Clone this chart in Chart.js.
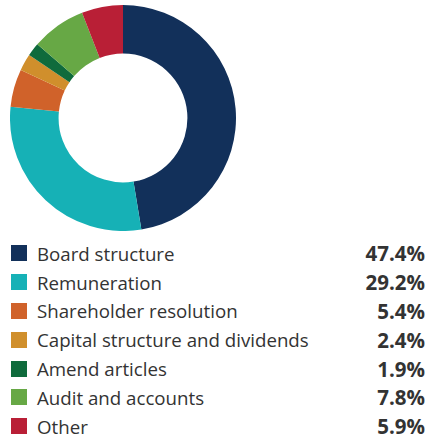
<!DOCTYPE html>
<html>
<head>
<meta charset="utf-8">
<script src="https://cdn.jsdelivr.net/npm/chart.js@4"></script>
<style>
  body { margin: 0; background: #fff; width: 425px; height: 439px; overflow: hidden; font-family: "Open Sans", "Noto Sans", sans-serif; }
  #wrap { position: absolute; left: 10px; top: 5px; width: 226px; height: 226px; }
  #legend { position: absolute; left: 11px; top: 239px; width: 414px; }
  .row { display: flex; align-items: center; height: 28.8px; font-size: 18.7px; color: #333; }
  .sw { width: 16px; height: 16px; margin-right: 10px; flex: none; }
  .lab { flex: 1; }
  .val { font-weight: bold; text-align: right; font-size: 20.5px; }
</style>
</head>
<body>
<div id="wrap"><canvas id="chart"></canvas></div>
<div id="legend"></div>
<script>
// Themen und Anteile (%)
const categories = ["Board structure", "Remuneration", "Shareholder resolution", "Capital structure and dividends", "Amend articles", "Audit and accounts", "Other"];
const shares = [47.4, 29.2, 5.4, 2.4, 1.9, 7.8, 5.9];
const colors = ["#12305a", "#16b1b6", "#d0622a", "#d08f2c", "#0f6b3c", "#67a845", "#b91f36"];

const legend = document.getElementById('legend');
categories.forEach((c, i) => {
    const row = document.createElement('div');
    row.className = 'row';
    row.innerHTML = '<span class="sw" style="background:' + colors[i] + '"></span>' +
        '<span class="lab">' + c + '</span>' +
        '<span class="val">' + shares[i].toFixed(1) + '%</span>';
    legend.appendChild(row);
});

new Chart(document.getElementById('chart'), {
    type: 'doughnut',
    data: {
        labels: categories,
        datasets: [{
            data: shares,
            backgroundColor: colors,
            borderWidth: 0
        }]
    },
    options: {
        responsive: true,
        maintainAspectRatio: false,
        animation: false,
        cutout: '57%',
        layout: { padding: 0 },
        plugins: { legend: { display: false }, tooltip: { enabled: false } }
    }
});
</script>
</body>
</html>
